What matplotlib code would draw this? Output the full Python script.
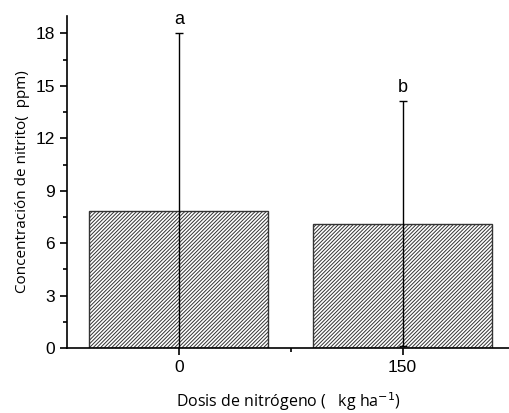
import matplotlib
matplotlib.use("Agg")
import matplotlib.pyplot as plt
from matplotlib.ticker import MultipleLocator, FixedLocator

categories = ["0", "150"]
means = [7.82, 7.11]
errors = [10.18, 7.0]
letters = ["a", "b"]

fig = plt.figure(figsize=(5.10, 4.13), dpi=100)
ax = fig.add_axes([67/510, 1-348/413, 1-67/510, (348-16)/413])

x = [1, 2]
plt.rcParams['hatch.linewidth'] = 0.7
ax.bar(x, means, width=0.8, color="white", edgecolor="#333333", linewidth=1.0,
       hatch="/////////", zorder=2)
ax.errorbar(x, means, yerr=errors, fmt="none", ecolor="black", elinewidth=1.0,
            capsize=3, capthick=1.0, zorder=3)
for xi, m, e, l in zip(x, means, errors, letters):
    ax.text(xi, m + e + 0.3, l, ha="center", va="bottom", fontsize=13,
            family="Liberation Sans")

ax.set_xlim(0.5, 2.48)
ax.set_ylim(0, 19.0)
ax.set_xticks(x)
ax.set_xticklabels(categories)
ax.xaxis.set_minor_locator(FixedLocator([1.5]))
ax.yaxis.set_major_locator(MultipleLocator(3))
ax.yaxis.set_minor_locator(MultipleLocator(1.5))
ax.spines["top"].set_visible(False)
ax.spines["right"].set_visible(False)
for s in ["left", "bottom"]:
    ax.spines[s].set_linewidth(1.2)
ax.tick_params(axis="both", which="major", direction="out", length=5, width=1.2,
               labelsize=12.5)
ax.tick_params(axis="both", which="minor", direction="out", length=3, width=1.2)
for lab in ax.get_xticklabels() + ax.get_yticklabels():
    lab.set_family("Liberation Sans")
ax.tick_params(axis="x", pad=4)

ax.set_ylabel("Concentración de nitrito(  ppm)", fontsize=11, family="Open Sans", labelpad=4)
ax.set_xlabel("Dosis de nitrógeno (   kg ha$^{-1}$)", fontsize=11.5, family="Open Sans", labelpad=11)

fig.savefig("out.png", dpi=100)
